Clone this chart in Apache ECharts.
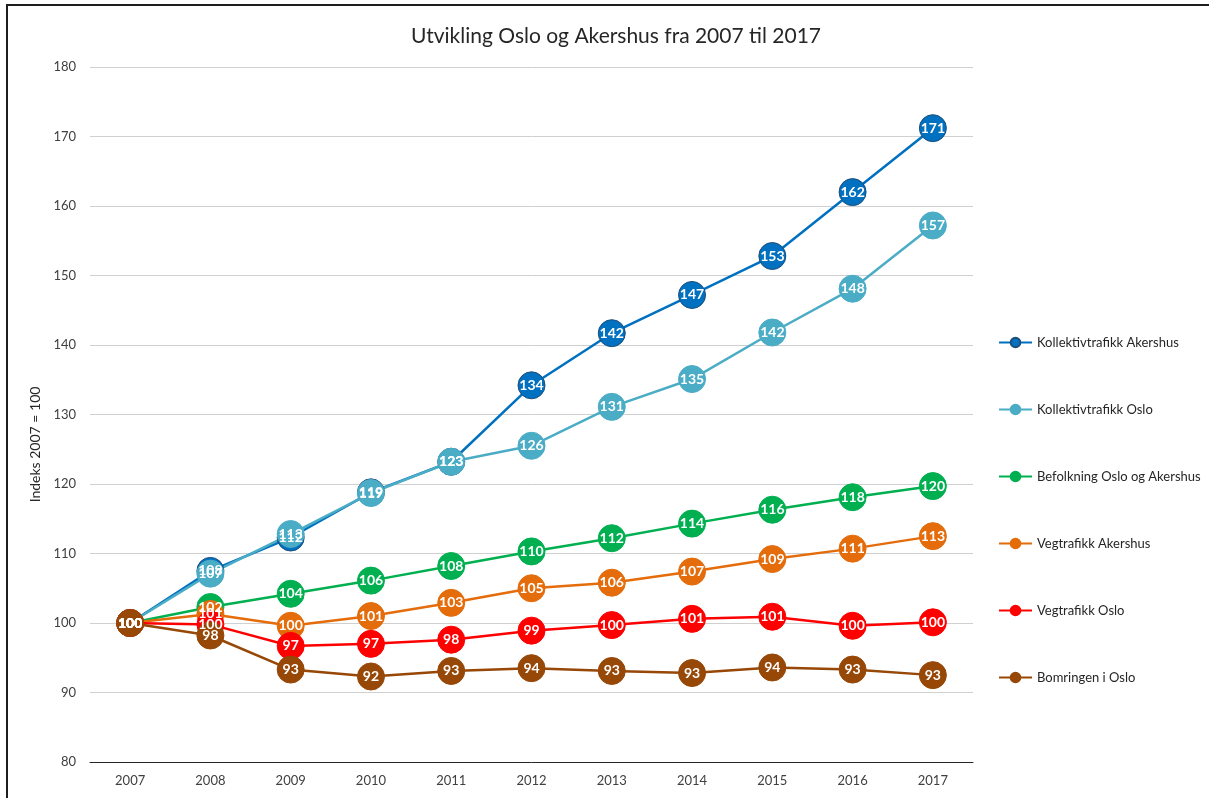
<!DOCTYPE html>
<html>
<head>
<meta charset="utf-8">
<title>Utvikling Oslo og Akershus</title>
<script src="https://cdn.jsdelivr.net/npm/echarts@6/dist/echarts.min.js"></script>
<style>
  html, body { margin: 0; padding: 0; background: #fff; overflow: hidden; }
  #chart { position: absolute; left: 0; top: 0; width: 1209px; height: 798px; }
  /* ramme rundt diagrammet (venstre og topp synlig i originalen) */
  #frame {
    position: absolute; left: 6px; top: 4px; width: 1201px; height: 792px;
    border-left: 2px solid #1e1e1e; border-top: 2px solid #1e1e1e;
    pointer-events: none;
  }
</style>
</head>
<body>
<div id="chart"></div>
<div id="frame"></div>
<script>
// kategorier (år)
const years = ['2007', '2008', '2009', '2010', '2011', '2012', '2013', '2014', '2015', '2016', '2017']

// indeksverdier, 2007 = 100 (lest av figuren)
const kollektivAkershus = [100, 107.5, 112.3, 118.8, 123.2, 134.2, 141.7, 147.2, 152.8, 162.0, 171.2]
const kollektivOslo = [100, 107.1, 112.8, 118.7, 123.2, 125.5, 131.1, 135.1, 141.8, 148.1, 157.2]
const befolkning = [100, 102.3, 104.2, 106.1, 108.2, 110.3, 112.2, 114.3, 116.3, 118.1, 119.7]
const vegAkershus = [100, 101.3, 99.6, 101.0, 102.9, 105.0, 105.8, 107.4, 109.2, 110.7, 112.5]
const vegOslo = [100, 99.8, 96.7, 97.0, 97.6, 98.9, 99.7, 100.6, 100.9, 99.6, 100.1]
const bomringen = [100, 98.2, 93.3, 92.3, 93.1, 93.5, 93.1, 92.8, 93.6, 93.3, 92.5]

// y-akse
const yMin = 80
const yMax = 180
const yStep = 10

const FONT = 'Lato, "Open Sans", sans-serif'

const seriesDefs = [
  { name: 'Kollektivtrafikk Akershus', data: kollektivAkershus, color: '#0070C0', border: '#1F4E79' },
  { name: 'Kollektivtrafikk Oslo', data: kollektivOslo, color: '#4BACC6', border: '#4BACC6' },
  { name: 'Befolkning Oslo og Akershus', data: befolkning, color: '#00B050', border: '#00B050' },
  { name: 'Vegtrafikk Akershus', data: vegAkershus, color: '#E46C0A', border: '#E46C0A' },
  { name: 'Vegtrafikk Oslo', data: vegOslo, color: '#FF0000', border: '#FF0000' },
  { name: 'Bomringen i Oslo', data: bomringen, color: '#974706', border: '#974706' }
]

const chart = echarts.init(document.getElementById('chart'))

const series = seriesDefs.map(s => ({
  name: s.name,
  type: 'line',
  data: s.data,
  symbol: 'circle',
  symbolSize: 27,
  lineStyle: { width: 2.5, color: s.color },
  itemStyle: { color: s.color, borderColor: s.border, borderWidth: 1 },
  label: {
    show: true,
    position: 'inside',
    color: '#fff',
    fontFamily: FONT,
    fontWeight: 'bold',
    fontSize: 14,
    formatter: p => Math.round(p.value)
  },
  emphasis: { disabled: true },
  animation: false
}))

chart.setOption({
  backgroundColor: '#fff',
  textStyle: { fontFamily: FONT },
  title: {
    text: 'Utvikling Oslo og Akershus fra 2007 til 2017',
    left: 611,
    textAlign: 'center',
    top: 21,
    textStyle: { fontFamily: FONT, fontSize: 21, fontWeight: 'normal', color: '#262626' }
  },
  legend: {
    orient: 'vertical',
    left: 993,
    top: 331,
    itemWidth: 33,
    itemHeight: 12,
    itemGap: 54,
    textStyle: { fontFamily: FONT, fontSize: 13, color: '#262626' },
    data: seriesDefs.map(s => s.name)
  },
  grid: { left: 90, right: 236, top: 67, bottom: 36 },
  xAxis: {
    type: 'category',
    data: years,
    axisLine: { lineStyle: { color: '#262626', width: 1 } },
    axisTick: { show: false },
    axisLabel: { color: '#404040', fontSize: 13, fontFamily: FONT, margin: 12 }
  },
  yAxis: {
    type: 'value',
    min: yMin,
    max: yMax,
    interval: yStep,
    name: 'Indeks 2007 = 100',
    nameLocation: 'middle',
    nameGap: 42,
    nameTextStyle: { color: '#262626', fontSize: 14, fontFamily: FONT, padding: [0, 60, 0, 0] },
    axisLine: { show: false },
    axisTick: { show: false },
    axisLabel: { color: '#404040', fontSize: 13, fontFamily: FONT, margin: 14 },
    splitLine: { lineStyle: { color: '#D0D0D0', width: 1 } }
  },
  series: series
})
</script>
</body>
</html>
